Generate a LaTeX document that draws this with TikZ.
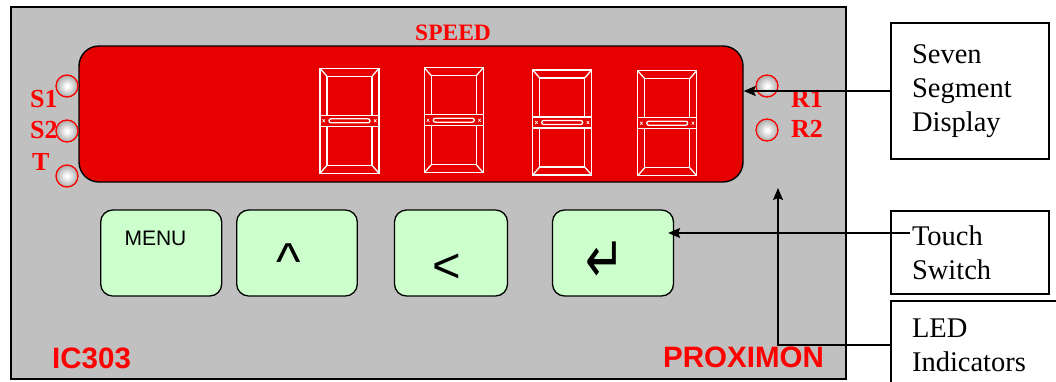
\documentclass[tikz,border=0pt]{standalone}
\usepackage{fontspec}
\setmainfont{Liberation Serif}
\newfontfamily\arialfont{Liberation Sans}
\newfontfamily\symfont{DejaVu Sans}
\usetikzlibrary{arrows.meta}

\definecolor{panelgray}{HTML}{C0C0C0}
\definecolor{lcdred}{HTML}{E60000}
\definecolor{keygreen}{HTML}{CCFFCC}
\definecolor{labelred}{HTML}{FF0000}

% glass bulb of an indicator lamp
\pgfdeclareradialshading{ledball}{\pgfpoint{0bp}{0bp}}{%
  color(0bp)=(white); color(3bp)=(white); color(28bp)=(black!38); color(50bp)=(black!55)}

\tikzset{
  panelbox/.style={rectangle, draw=black, line width=1.5pt, fill=panelgray, inner sep=0pt},
  dispbox/.style={rectangle, draw=black, line width=1.4pt, fill=lcdred, rounded corners=20pt, inner sep=0pt},
  keybox/.style={rectangle, draw=black, line width=1.3pt, fill=keygreen, rounded corners=12pt, inner sep=0pt,
    minimum height=86pt},
  led/.style={circle, draw=labelred, line width=1.3pt, shading=ledball, minimum size=22pt, inner sep=0pt},
  ledlabel/.style={text=labelred, font=\fontsize{26}{28}\selectfont\bfseries, inner sep=0pt, anchor=base west},
  brand/.style={text=labelred, font=\arialfont\fontsize{29.5}{32}\selectfont\bfseries, inner sep=0pt, anchor=base west},
  callout/.style={rectangle, draw=black, line width=1.2pt, fill=white, inner ysep=0pt, inner xsep=21pt,
    align=left, font=\fontsize{28.5}{34}\selectfont},
  pointer/.style={line width=1.3pt, -{Stealth[length=12pt, width=10pt, inset=2pt]}},
  digitline/.style={draw=white, line width=1.3pt},
  segdigit/.pic={
    % outer frame and the two inner windows
    \draw[digitline] (0,0) rectangle (59,105);
    \draw[digitline] (7,8) rectangle (52,47);
    \draw[digitline] (7,58) rectangle (52,97);
    % bevel corners
    \draw[digitline] (0,0) -- (7,8) (59,0) -- (52,8) (0,105) -- (7,97) (59,105) -- (52,97);
    % middle segment
    \draw[digitline] (0,47) rectangle (59,58);
    \draw[digitline, rounded corners=2pt] (9,50.5) rectangle (50,54.5);
    \draw[white, line width=0.6pt] (2.5,51) -- (5,54) (2.5,54) -- (5,51) (56.5,51) -- (54,54) (56.5,54) -- (54,51);
  }
}

\begin{document}
\begin{tikzpicture}[x=1pt, y=-1pt]
  \useasboundingbox (0,0) rectangle (1056,381);
  \clip (0,0) rectangle (1056,381);

  % front panel
  \node[panelbox, minimum width=835pt, minimum height=372pt] (panel) at (428.5,193) {};

  % display window with four digits
  \node[dispbox, minimum width=664pt, minimum height=136pt] (disp) at (411,114) {};
  \pic (dga) at (320,68.3) {segdigit};
  \pic (dgb) at (424.3,67.7) {segdigit};
  \pic (dgc) at (532.7,70) {segdigit};
  \pic (dgd) at (637.7,70.7) {segdigit};
  \node[text=labelred, font=\fontsize{23.5}{26}\selectfont\bfseries, inner sep=0pt, anchor=base west] (speed) at (415,40) {SPEED};

  % indicator lamps
  \node[led] (ls1) at (67,86) {};
  \node[led] (ls2) at (67,131) {};
  \node[led] (lt)  at (67,176) {};
  \node[led] (lr1) at (767,86) {};
  \node[led] (lr2) at (767,130) {};
  \node[ledlabel] (ts1) at (30,107) {S1};
  \node[ledlabel] (ts2) at (30,138) {S2};
  \node[ledlabel] (tt)  at (32,170) {T};
  \node[ledlabel] (tr1) at (791,107) {R1};
  \node[ledlabel] (tr2) at (791,137) {R2};

  % keys
  \node[keybox, minimum width=121pt] (menu)  at (161.2,253) {};
  \node[keybox, minimum width=120.6pt] (up)  at (297,253) {};
  \node[keybox, minimum width=113pt] (left)  at (451,253) {};
  \node[keybox, minimum width=121pt] (enter) at (613,253) {};
  \node[font=\arialfont\fontsize{21}{24}\selectfont, inner sep=0pt, anchor=base] (menutxt) at (155.5,245.7) {MENU};
  \node[font=\arialfont\fontsize{52}{56}\selectfont, inner sep=0pt, anchor=base] (uptxt) at (289,279) {\textasciicircum};
  \node[font=\arialfont\fontsize{49}{52}\selectfont, inner sep=0pt, anchor=base] (lefttxt) at (447,282.4) {<};
  \node[font=\symfont\fontsize{47}{50}\selectfont, inner sep=0pt, anchor=center] (entertxt) at (605.5,262) {\scalebox{1}[1.38]{↵}};

  % maker and model
  \node[brand] (model) at (52,368) {IC303};
  \node[brand] (maker) at (663,367) {PROXIMON};

  % callouts
  \node[callout, text width=116pt, minimum width=158pt, minimum height=136pt] (seg) at (970,91) {Seven\\Segment\\Display};
  \node[callout, text width=116pt, minimum width=158pt, minimum height=83pt] (tsw) at (970,252.5) {Touch\\Switch};
  \node[callout, text width=138pt, minimum width=180pt, minimum height=88pt] (ledbox) at (981,345) {LED\\Indicators};

  % leaders
  \draw[pointer] (seg.west) -- (seg.west -| disp.east);
  \coordinate (tswfrom) at (910,233);
  \draw[pointer] (tswfrom) -- ([xshift=-6pt]tswfrom -| enter.east);
  \coordinate (ledtip) at (778,188);
  \draw[pointer] (ledbox.west) -| (ledtip);
\end{tikzpicture}
\end{document}
